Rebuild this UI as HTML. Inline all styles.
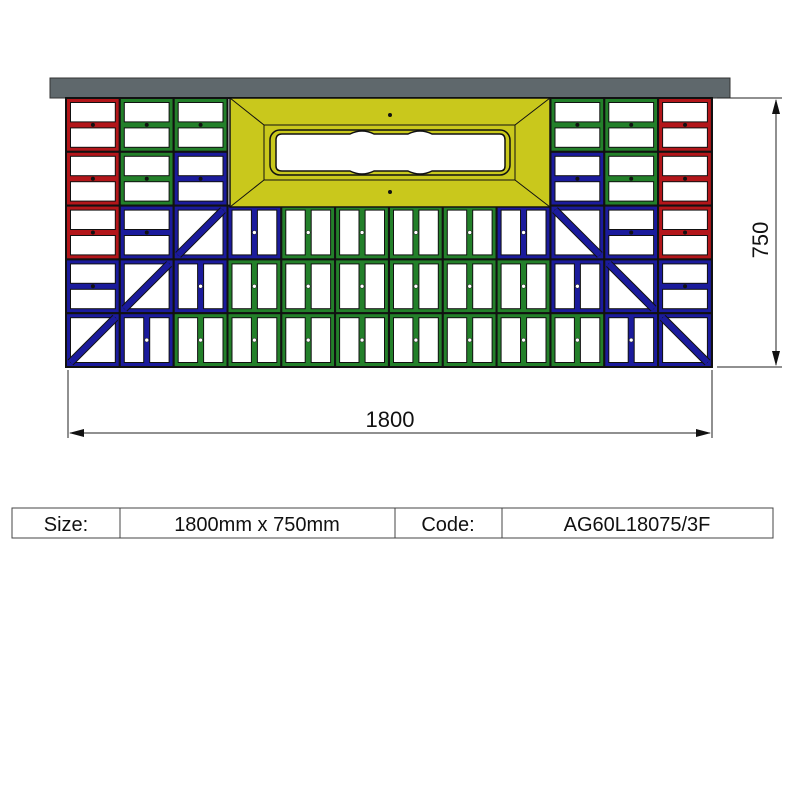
<!DOCTYPE html>
<html><head><meta charset="utf-8"><style>
html,body{margin:0;padding:0;background:#fff;width:800px;height:800px;overflow:hidden}
svg{display:block}
</style></head><body>
<svg id="s" width="800" height="800" viewBox="0 0 800 800" xmlns="http://www.w3.org/2000/svg">
<rect x="50" y="78" width="680" height="20" fill="#5f686c" stroke="#333" stroke-width="1"/>
<g id="grid"></g>
<!-- yellow panel -->
<rect x="230" y="98" width="320" height="109" fill="#c9c81c" stroke="#111" stroke-width="1.5"/>
<rect x="264" y="125" width="251" height="55" fill="none" stroke="#111" stroke-width="1"/>
<line x1="230" y1="98" x2="264" y2="125" stroke="#111"/>
<line x1="550" y1="98" x2="515" y2="125" stroke="#111"/>
<line x1="230" y1="207" x2="264" y2="180" stroke="#111"/>
<line x1="550" y1="207" x2="515" y2="180" stroke="#111"/>
<rect x="270" y="130" width="240" height="45" rx="10" fill="none" stroke="#111" stroke-width="1.5"/>
<path d="M282,134 L350,134 Q362,128 374,134 L408,134 Q420,128 432,134 L500,134 Q505,134 505,140 L505,166 Q505,171 500,171 L432,171 Q420,177 408,171 L374,171 Q362,177 350,171 L282,171 Q276,171 276,166 L276,140 Q276,134 282,134 Z" fill="#fff" stroke="#111" stroke-width="1.5"/>
<circle cx="390" cy="115" r="2" fill="#111"/><circle cx="390" cy="192" r="2" fill="#111"/>
<!-- dimensions -->
<g stroke="#222" stroke-width="1" fill="none">
<line x1="717" y1="98" x2="782" y2="98"/><line x1="717" y1="367" x2="782" y2="367"/>
<line x1="776" y1="100" x2="776" y2="365"/>
<line x1="68" y1="370" x2="68" y2="438"/><line x1="712" y1="370" x2="712" y2="438"/>
<line x1="70" y1="433" x2="710" y2="433"/>
</g>
<g fill="#111">
<polygon points="776,99 772,114 780,114"/><polygon points="776,366 772,351 780,351"/>
<polygon points="69,433 84,429 84,437"/><polygon points="711,433 696,429 696,437"/>
</g>
<text x="390" y="427" font-family="Liberation Sans, sans-serif" font-size="22" text-anchor="middle" fill="#111">1800</text>
<text transform="translate(768,240) rotate(-90)" font-family="Liberation Sans, sans-serif" font-size="22" text-anchor="middle" fill="#111">750</text>
<!-- table -->
<g stroke="#444" stroke-width="1" fill="none">
<rect x="12" y="508" width="761" height="30"/>
<line x1="120" y1="508" x2="120" y2="538"/><line x1="395" y1="508" x2="395" y2="538"/><line x1="502" y1="508" x2="502" y2="538"/>
</g>
<g font-family="Liberation Sans, sans-serif" font-size="20" fill="#111" text-anchor="middle">
<text x="66" y="531">Size:</text><text x="257" y="531">1800mm x 750mm</text>
<text x="448" y="531">Code:</text><text x="637" y="531">AG60L18075/3F</text>
</g>
</svg>
<script>
(function(){
var C={R:'#b3161a',G:'#23802a',B:'#1b1b9c'};
var L=[
['Rh','Gh','Gh','Y','Y','Y','Y','Y','Y','Gh','Gh','Rh'],
['Rh','Gh','Bh','Y','Y','Y','Y','Y','Y','Bh','Gh','Rh'],
['Rh','Bh','B/','Bv','Gv','Gv','Gv','Gv','Bv','B\\','Bh','Rh'],
['Bh','B/','Bv','Gv','Gv','Gv','Gv','Gv','Gv','Bv','B\\','Bh'],
['B/','Bv','Gv','Gv','Gv','Gv','Gv','Gv','Gv','Gv','Bv','B\\']];
var x0=66,y0=98,cw=53.83,ch=53.8,s='',m=4.5,b=3;
function R(x,y,w,h,f,sw){s+='<rect x="'+x.toFixed(1)+'" y="'+y.toFixed(1)+'" width="'+w.toFixed(1)+'" height="'+h.toFixed(1)+'" fill="'+f+'" stroke="#111" stroke-width="'+(sw||1)+'"/>';}
for(var r=0;r<5;r++)for(var c=0;c<12;c++){var t=L[r][c];if(t=='Y')continue;
var x=x0+c*cw,y=y0+r*ch,col=C[t[0]],k=t[1];
R(x,y,cw,ch,col,2);
if(k=='h'){R(x+m,y+m,cw-2*m,ch/2-m-b,'#fff');R(x+m,y+ch/2+b,cw-2*m,ch/2-m-b,'#fff');
s+='<circle cx="'+(x+cw/2)+'" cy="'+(y+ch/2)+'" r="2" fill="#111"/>';}
else if(k=='v'){R(x+m,y+m,cw/2-m-b,ch-2*m,'#fff');R(x+cw/2+b,y+m,cw/2-m-b,ch-2*m,'#fff');
s+='<circle cx="'+(x+cw/2)+'" cy="'+(y+ch/2)+'" r="2" fill="#fff" stroke="#111" stroke-width="0.5"/>';}
else{R(x+m,y+m,cw-2*m,ch-2*m,'#fff');
var a=k=='/'?[x+m,y+ch-m,x+cw-m,y+m]:[x+m,y+m,x+cw-m,y+ch-m];
s+='<line x1="'+a[0]+'" y1="'+a[1]+'" x2="'+a[2]+'" y2="'+a[3]+'" stroke="#111" stroke-width="8"/>';
s+='<line x1="'+a[0]+'" y1="'+a[1]+'" x2="'+a[2]+'" y2="'+a[3]+'" stroke="'+col+'" stroke-width="6"/>';}
}
s+='<rect x="66" y="98" width="646" height="269" fill="none" stroke="#111" stroke-width="2"/>';
document.getElementById('grid').innerHTML=s;
})();
</script>
</body></html>
